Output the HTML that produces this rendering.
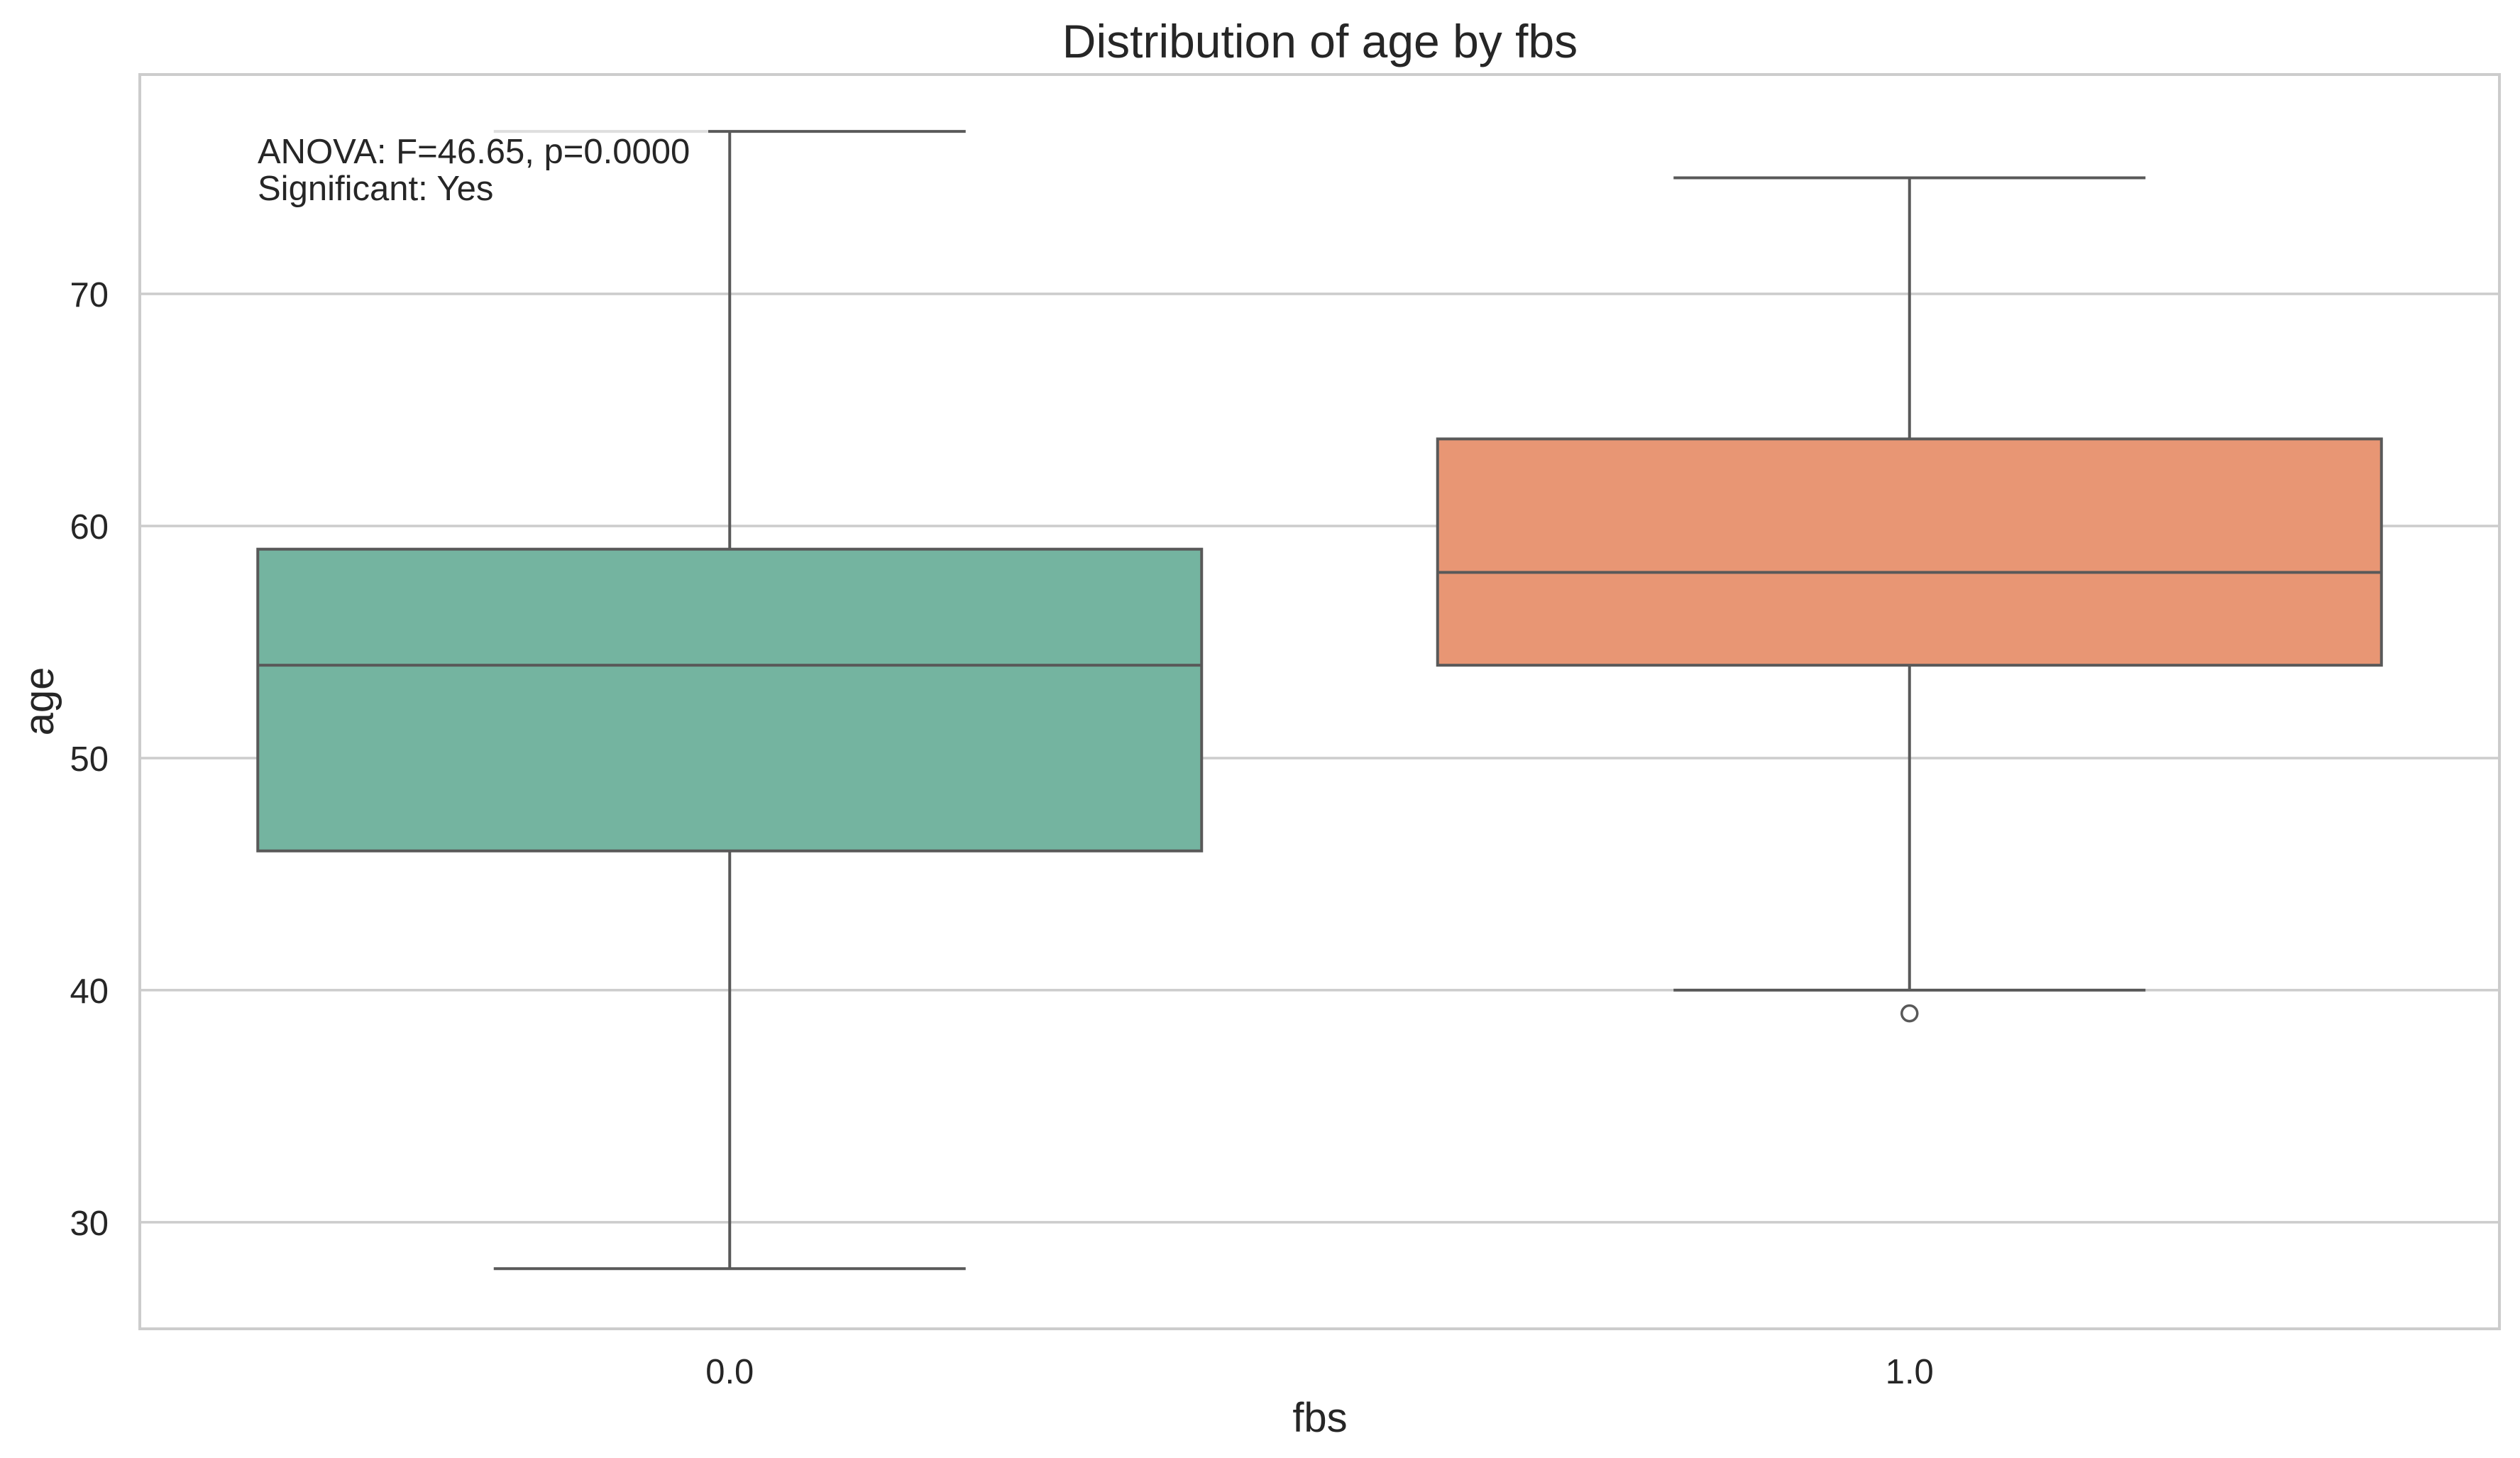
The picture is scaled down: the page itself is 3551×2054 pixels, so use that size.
<!DOCTYPE html>
<html><head><meta charset="utf-8"><style>
html,body{margin:0;padding:0;background:#fff;}
svg{display:block;font-family:"Liberation Sans",Arial,sans-serif;}
</style></head><body>
<svg id="chart" width="3551" height="2054" viewBox="0 0 3551 2054" xmlns="http://www.w3.org/2000/svg">
<rect width="3551" height="2054" fill="#fff"/>
<g id="grid"></g>
<g id="boxes"></g>
<rect x="343" y="172" width="655" height="128" rx="8" fill="#fff" fill-opacity="0.8"/>
<text x="363" y="230" font-size="49" fill="#262626">ANOVA: F=46.65, p=0.0000</text>
<text x="363" y="282" font-size="49" fill="#262626">Significant: Yes</text>
<rect x="197" y="105" width="3325" height="1767" fill="none" stroke="#cccccc" stroke-width="4"/>
<g id="ticks"></g>
<text x="1860" y="81" font-size="66" text-anchor="middle" fill="#262626">Distribution of age by fbs</text>
<text x="1860" y="2017" font-size="58" text-anchor="middle" fill="#262626">fbs</text>
<text x="0" y="0" font-size="58" text-anchor="middle" fill="#262626" transform="translate(75,988) rotate(-90)">age</text>
</svg>
<script>
const categories = ["0.0", "1.0"];
const whiskerLow = [28, 40];
const q1 = [46, 54];
const median = [54, 58];
const q3 = [59, 63.75];
const whiskerHigh = [77, 75];
const outliers = [[], [39]];
const yTicks = [30, 40, 50, 60, 70];
const colors = ["#74b4a0", "#e89674"];

const NS = "http://www.w3.org/2000/svg";
const L = 197, R = 3522, T = 105, B = 1872;
const yMin = 25.41, yMax = 79.45;
function y(v){ return B - (v - yMin) / (yMax - yMin) * (B - T); }
const band = (R - L) / categories.length;
function xc(i){ return L + band * (i + 0.5); }
function mk(tag, attrs, parent){
  const e = document.createElementNS(NS, tag);
  for (const k in attrs) e.setAttribute(k, attrs[k]);
  parent.appendChild(e);
  return e;
}
const grid = document.getElementById('grid');
const ticks = document.getElementById('ticks');
yTicks.forEach(t => {
  const g = mk('line', {x1:L, x2:R, y1:y(t), y2:y(t), stroke:'#cccccc', 'stroke-width':3.5}, grid);
  
  
  const tx = mk('text', {x:153, y:y(t)+18, 'font-size':49, 'text-anchor':'end', fill:'#262626'}, ticks);
  tx.textContent = t;
  
  
});
categories.forEach((c, i) => {
  const tx = mk('text', {x:xc(i), y:1949, 'font-size':49, 'text-anchor':'middle', fill:'#262626'}, ticks);
  tx.textContent = c;
  
  
});
const boxes = document.getElementById('boxes');
const stroke = '#595959', sw = 4;
categories.forEach((c, i) => {
  const cx = xc(i), hw = band * 0.4, cw = band * 0.2;
  const g = mk('g', {}, boxes);
  
  
  mk('line', {x1:cx, x2:cx, y1:y(q3[i]), y2:y(whiskerHigh[i]), stroke:stroke, 'stroke-width':sw}, g);
  mk('line', {x1:cx, x2:cx, y1:y(q1[i]), y2:y(whiskerLow[i]), stroke:stroke, 'stroke-width':sw}, g);
  mk('line', {x1:cx-cw, x2:cx+cw, y1:y(whiskerHigh[i]), y2:y(whiskerHigh[i]), stroke:stroke, 'stroke-width':sw}, g);
  mk('line', {x1:cx-cw, x2:cx+cw, y1:y(whiskerLow[i]), y2:y(whiskerLow[i]), stroke:stroke, 'stroke-width':sw}, g);
  const r = mk('rect', {x:cx-hw, y:y(q3[i]), width:2*hw, height:y(q1[i])-y(q3[i]), fill:colors[i], stroke:stroke, 'stroke-width':sw}, g);
  
  
  const m = mk('line', {x1:cx-hw, x2:cx+hw, y1:y(median[i]), y2:y(median[i]), stroke:stroke, 'stroke-width':sw}, g);
  
  
  outliers[i].forEach(o => {
    const p = mk('circle', {cx:cx, cy:y(o), r:11, fill:'none', stroke:stroke, 'stroke-width':3.5}, g);
    
    
  });
});
</script>
</body></html>
